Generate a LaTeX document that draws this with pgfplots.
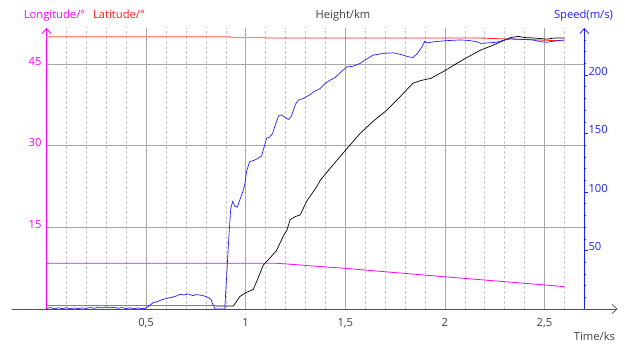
\documentclass[border=0pt]{standalone}
\usepackage{pgfplots}
\pgfplotsset{compat=1.18}
\usepackage{fontspec}
\setmainfont{Open Sans}
\usetikzlibrary{arrows.meta}
\definecolor{mag}{HTML}{FF00FF}
\definecolor{lat}{HTML}{FF2020}
\definecolor{latpale}{HTML}{FF8C8C}
\definecolor{spd}{HTML}{2020FF}
\definecolor{txtgray}{HTML}{404040}
\definecolor{gridmaj}{HTML}{A8A8A8}
\definecolor{gridmin}{HTML}{C8C8C8}
\definecolor{axgray}{HTML}{505050}
\begin{document}
\begin{tikzpicture}[font=\fontsize{11.2}{13}\selectfont]
\path[use as bounding box] (0,0) rectangle (625pt,347pt);
\begin{axis}[
  at={(46.5pt,38pt)}, anchor=south west,
  scale only axis, width=537.8pt, height=281pt,
  xmin=0, xmax=2.70, ymin=0, ymax=51.65,
  axis lines=left,
  x axis line style={draw=none},
  y axis line style={draw=mag, line width=0.8pt, -{Straight Barb[length=5pt,width=9pt]}},
  clip=false,
  xtick={0.5,1,1.5,2,2.5},
  xticklabels={{0,5},{1},{1,5},{2},{2,5}},
  minor xtick={0.1,0.2,0.3,0.4,0.6,0.7,0.8,0.9,1.1,1.2,1.3,1.4,1.6,1.7,1.8,1.9,2.1,2.2,2.3,2.4,2.6},
  ytick={15,30,45},
  xmajorgrids, xminorgrids, ymajorgrids,
  major grid style={draw=gridmaj, line width=0.6pt},
  minor grid style={draw=gridmin, line width=0.5pt, dash pattern=on 2.5pt off 2.5pt},
  major tick length=0pt, minor tick length=0pt,
  /pgf/number format/assume math mode=true,
  xticklabel style={text=txtgray, anchor=base, inner sep=0pt, yshift=-18pt},
  yticklabel style={text=mag, anchor=base east, inner sep=0pt, xshift=-4.8pt, yshift=-1pt},
]
% Longitude
\addplot[mag, line width=0.8pt] coordinates {
(0,8.42)(1.15,8.42)(1.27,8.1)(1.375,7.8)(1.49,7.5)(1.99,5.95)(2.5,4.42)(2.6,4.1)};
% Latitude
\addplot[latpale, line width=1.2pt] coordinates {
(0,50.05)(0.92,50.05)(0.925,49.9)(1.1,49.9)};
\addplot[lat, line width=0.8pt] coordinates {
(1.1,49.82)(2.18,49.8)(2.25,49.7)(2.4,49.55)(2.5,49.4)(2.6,49.3)};
% Height
\addplot[gray, line width=0.8pt] coordinates {(0,0.6)(0.85,0.6)};
\addplot[black, line width=0.7pt] coordinates {
(0.85,0.55)(0.938,0.55)(0.971,2.3)(1.0,3.0)(1.038,3.6)(1.06,5.5)(1.089,8.1)(1.12,9.3)(1.156,10.8)(1.19,13.5)(1.207,14.5)(1.223,16.4)(1.25,17.0)(1.274,17.3)(1.306,19.8)(1.357,22.5)(1.375,23.7)(1.425,25.9)(1.49,28.7)(1.575,32.3)(1.64,34.5)(1.71,36.6)(1.78,39.2)(1.84,41.5)(1.88,42.0)(1.93,42.4)(1.99,43.6)(2.04,44.7)(2.09,45.8)(2.18,47.6)(2.23,48.3)(2.28,49.1)(2.33,49.9)(2.37,50.1)(2.40,49.9)(2.45,49.8)(2.51,49.6)(2.55,49.8)(2.6,49.8)};
\draw[axgray, line width=0.7pt, -{Straight Barb[length=5pt,width=9pt]}] (axis cs:-0.173,0) -- (axis cs:2.867,0);
\end{axis}
\begin{axis}[
  at={(46.5pt,38pt)}, anchor=south west,
  scale only axis, width=537.8pt, height=281pt,
  xmin=0, xmax=2.70, ymin=0, ymax=240.2,
  axis x line=none, axis y line=right,
  y axis line style={draw=spd, line width=0.8pt, -{Straight Barb[length=5pt,width=9pt]}},
  ytick={50,100,150,200},
  minor ytick={10,20,30,40,60,70,80,90,110,120,130,140,160,170,180,190,210,220,230},
  tick align=outside,
  major tick length=4pt, minor tick length=2pt,
  tick style={draw=spd, line width=0.5pt},
  /pgf/number format/assume math mode=true,
  yticklabel style={text=spd, anchor=base west, inner sep=0pt},
]
\addplot[spd, line width=0.7pt] coordinates {
(0,0.5)(0.02,1.2)(0.04,0.2)(0.06,1.0)(0.08,0.3)(0.10,1.1)(0.12,0.2)(0.14,0.9)(0.16,0.3)(0.18,1.0)(0.20,0.4)(0.22,1.3)(0.24,0.6)(0.26,1.6)(0.28,0.9)(0.30,1.7)(0.32,1.0)(0.34,1.5)(0.36,0.6)(0.38,1.2)(0.40,0.3)(0.42,1.0)(0.44,0.2)(0.46,0.9)(0.48,0.3)(0.495,0.5)
(0.51,2)(0.535,5.4)(0.56,6.5)(0.58,8)(0.604,9.1)(0.63,10)(0.65,11)(0.67,12.5)(0.69,12)(0.71,12.8)(0.737,11.4)(0.75,12.3)(0.77,12)(0.79,11.2)(0.81,10)(0.825,8.5)(0.835,4)(0.847,0)(0.895,0)
(0.905,30)(0.915,60)(0.925,86)(0.935,92)(0.945,88)(0.958,87)(0.97,93)(0.985,100)(0.995,106)(1.005,118)(1.02,126)(1.04,127)(1.06,128.5)(1.08,131)(1.095,140)(1.105,146)(1.12,147)(1.135,150)(1.15,158)(1.165,165)(1.18,166)(1.195,164)(1.215,162)(1.23,165)(1.25,175)(1.265,178.6)(1.29,180)(1.32,183)(1.345,186)(1.375,188.6)(1.40,193)(1.425,195.7)(1.45,198)(1.48,203)(1.51,207)(1.54,207.5)(1.575,210)(1.60,213)(1.64,217)(1.69,218.5)(1.74,219)(1.78,217.5)(1.82,215.5)(1.84,215)(1.86,218)(1.885,224)(1.90,229)(1.91,227.5)(1.95,228.5)(1.98,229)(2.02,229.5)(2.08,230)(2.12,229.5)(2.16,228.5)(2.18,227)(2.22,227.5)(2.26,228)(2.30,230)(2.33,231)(2.38,230.5)(2.44,230)(2.48,228.5)(2.51,228)(2.55,229)(2.6,230)};
\end{axis}
\node[text=mag, anchor=base] at (54.5pt,328pt) {Longitude/°};
\node[text=lat, anchor=base] at (119pt,328pt) {Latitude/°};
\node[text=txtgray, anchor=base] at (343pt,328pt) {Height/km};
\node[text=spd, anchor=base] at (583.5pt,328pt) {Speed(m/s)};
\node[text=txtgray, anchor=base] at (594.5pt,6pt) {Time/ks};
\end{tikzpicture}
\end{document}
